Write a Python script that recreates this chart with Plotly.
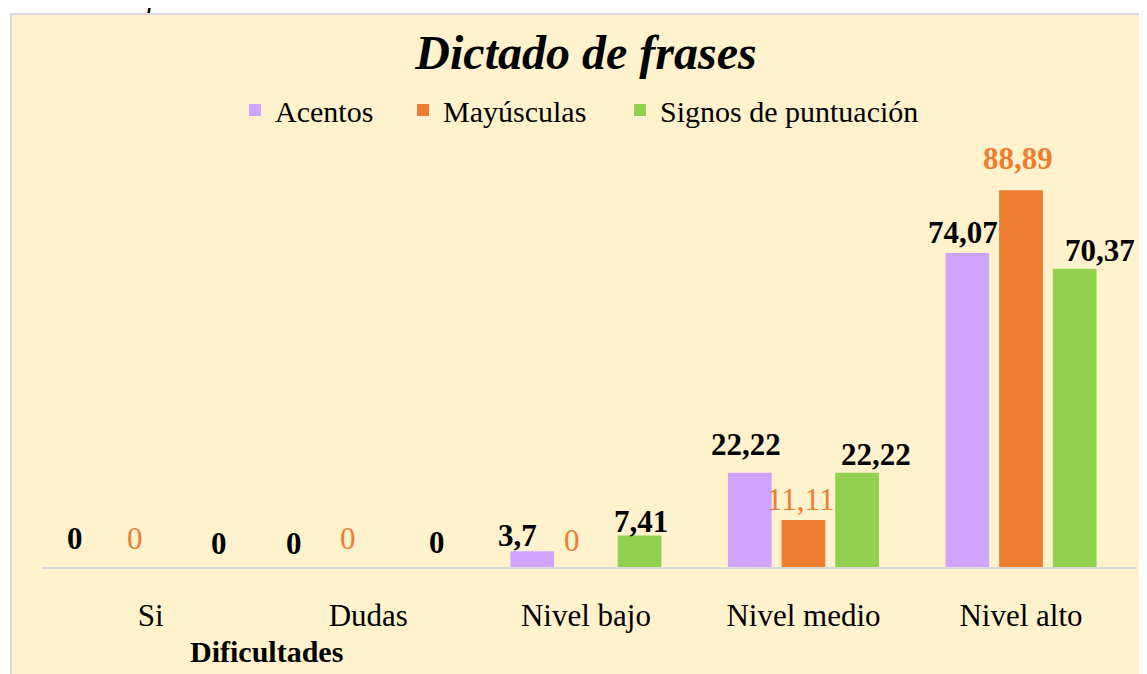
import plotly.graph_objects as go

categories = ["Si", "Dudas", "Nivel bajo", "Nivel medio", "Nivel alto"]
acentos = [0, 0, 3.7, 22.22, 74.07]
mayusculas = [0, 0, 0, 11.11, 88.89]
signos = [0, 0, 7.41, 22.22, 70.37]
series_names = ["Acentos", "Mayúsculas", "Signos de puntuación"]
label_texts = [
    ["0", "0", "3,7", "22,22", "74,07"],
    ["0", "0", "0", "11,11", "88,89"],
    ["0", "0", "7,41", "22,22", "70,37"],
]

colors = ["#D0A4FD", "#ED7D31", "#92D050"]
FONT = "Liberation Serif"

# page has an 8px body margin; work in page pixels and convert
OFF = 8
W, H = 1147 - OFF, 674 - OFF
ML, MR, MT, MB = 42 - OFF, 10, 122 - OFF, 107
PW = W - ML - MR
PH = H - MT - MB
YMAX = 105

def px_x(p):
    return (p - OFF - ML) / PW

def px_y(p):
    return (H - MB - (p - OFF)) / PH

legend_ids = ["legend", "legend2", "legend3"]
legend_text_start = [275, 443, 660]

fig = go.Figure()
for name, vals, col, lid in zip(series_names, [acentos, mayusculas, signos], colors, legend_ids):
    fig.add_trace(go.Bar(x=categories, y=vals, name=name, marker_color=col,
                         marker_line_width=0, legend=lid))

# data label styling offsets (slot offset + fine offsets, in px)
slot = [-54, 0, 54]
dx = [[-22, -20, -14, -3, -4],
      [-16, -20, -14, -3, -3],
      [14, 15, 1, 19, 25]]
dy = [[29, 24, 16, 28, 21],
      [29, 29, 27, 20, 32],
      [24, 25, 14, 18, 18]]
series_vals = [acentos, mayusculas, signos]
for s in range(3):
    for i, cat in enumerate(categories):
        is_orange = s == 1
        bold = (not is_orange) or series_vals[s][i] > 50
        txt = label_texts[s][i]
        if bold:
            txt = "<b>" + txt + "</b>"
        fig.add_annotation(x=cat, y=series_vals[s][i], xref="x", yref="y",
                           text=txt, showarrow=False,
                           xanchor="center", yanchor="middle",
                           xshift=slot[s] + dx[s][i], yshift=dy[s][i],
                           font=dict(family=FONT, size=31,
                                     color="#ED7D31" if is_orange else "#000000"))

# axis title
fig.add_annotation(x=px_x(266), y=px_y(651), xref="paper", yref="paper",
                   text="<b>Dificultades</b>", showarrow=False,
                   xanchor="center", yanchor="middle",
                   font=dict(family=FONT, size=30, color="#000000"))

# caption at top (cut off)
fig.add_annotation(x=px_x(4), y=px_y(-4), xref="paper", yref="paper",
                   text="<i>Dictado de frases</i>", showarrow=False,
                   xanchor="left", yanchor="middle",
                   font=dict(family=FONT, size=30, color="#000000"))

# chart area background + border
fig.add_shape(type="rect", xref="paper", yref="paper",
              x0=px_x(11), x1=px_x(1170), y0=px_y(700), y1=px_y(14),
              fillcolor="#FFF2CC", line=dict(color="#D9D9D9", width=2),
              layer="below")

legend_style = dict(orientation="h", xanchor="left", yanchor="middle",
                    font=dict(family=FONT, size=30, color="#000000"),
                    bgcolor="rgba(0,0,0,0)", itemwidth=30, borderwidth=0)

fig.update_layout(
    width=W, height=H,
    margin=dict(l=ML, r=MR, t=MT, b=MB, pad=0),
    paper_bgcolor="#FFFFFF",
    plot_bgcolor="rgba(0,0,0,0)",
    barmode="group",
    bargap=0.26,
    bargroupgap=0.185,
    title=dict(text="<b><i>Dictado de frases</i></b>", x=(586 - OFF) / W,
               xanchor="center", y=1 - (52 - OFF) / H, yanchor="middle",
               font=dict(family=FONT, size=48, color="#000000")),
    showlegend=True,
)
for lid, ts in zip(legend_ids, legend_text_start):
    fig.update_layout({lid: dict(legend_style, x=px_x(ts - 40), y=px_y(110))})

fig.update_xaxes(showline=True, linecolor="#D9D9D9", linewidth=2,
                 ticks="", showgrid=False, ticklabelstandoff=20,
                 tickfont=dict(family=FONT, size=31, color="#000000"),
                 fixedrange=True)
fig.update_yaxes(visible=False, range=[0, YMAX], showgrid=False, zeroline=False)

fig.write_html("out.html")
